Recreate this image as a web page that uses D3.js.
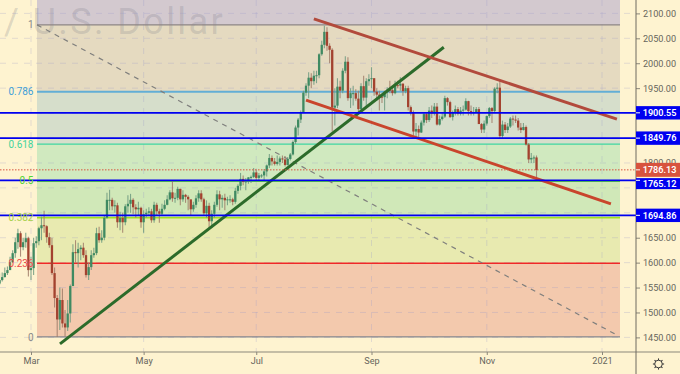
<!DOCTYPE html>
<html><head><meta charset="utf-8">
<script src="https://cdn.jsdelivr.net/npm/d3@7/dist/d3.min.js"></script>
<style>html,body{margin:0;padding:0;background:#FEF3D0;overflow:hidden}svg{display:block}text{font-family:Roboto,sans-serif}</style>
</head><body><svg id="c" width="680" height="374"></svg>
<script>
const firstOpen = 1558;
const firstBar = -12;
const closes = [
1565,1571,1579,1585,1601,1619,1641,1659,1631,1641,1649,1585,
1589,1639,1643,1669,1675,1673,1651,1635,1579,1529,
1486,1525,1478,1470,1498,1553,1621,1619,1627,1630,
1615,1575,1591,1615,1619,1659,1645,1650,1690,1726,
1726,1713,1715,1681,1690,1681,1713,1718,1726,1711,
1707,1710,1681,1697,1700,1703,1685,1716,1703,1698,
1708,1716,1727,1741,1729,1730,1748,1727,1736,1732,
1727,1707,1716,1729,1739,1727,1699,1714,1683,1698,
1716,1737,1727,1730,1725,1727,1727,1722,1744,1754,
1768,1762,1763,1771,1772,1781,1770,1775,1775,1783,
1795,1810,1803,1798,1802,1809,1807,1796,1808,1817,
1842,1871,1887,1902,1941,1955,1971,1964,1975,1976,
2018,2037,2063,2035,2027,1911,1915,1953,1945,1985,
2003,1930,1940,1940,1929,1908,1954,1931,1964,1968,
1970,1943,1937,1933,1932,1943,1947,1946,1940,1956,
1955,1959,1944,1950,1912,1900,1863,1868,1861,1881,
1898,1886,1905,1899,1913,1877,1888,1893,1930,1922,
1892,1902,1908,1899,1905,1907,1924,1904,1902,1902,
1908,1878,1867,1879,1894,1910,1904,1949,1951,1854,
1877,1866,1873,1889,1887,1885,1871,1866,1872,1837,
1807,1810,1811,1786];
const highs = [
1578,1580,1590,1592,1612,1625,1650,1668,1663,1650,1660,1652,
1612,1650,1653,1672,1692,1704,1675,1660,1650,1590,
1535,1550,1548,1505,1525,1556,1637,1645,1640,1635,
1640,1625,1600,1625,1630,1670,1672,1665,1695,1740,
1746,1730,1725,1720,1702,1700,1717,1735,1738,1729,
1717,1722,1712,1705,1708,1711,1708,1722,1720,1708,
1718,1725,1735,1745,1765,1740,1752,1748,1745,1738,
1735,1725,1722,1735,1745,1745,1730,1725,1720,1705,
1722,1745,1744,1735,1738,1732,1735,1730,1750,1757,
1780,1775,1770,1772,1775,1790,1787,1780,1778,1788,
1797,1818,1815,1810,1815,1813,1815,1814,1812,1820,
1845,1875,1890,1905,1945,1960,1982,1980,1985,1985,
2020,2045,2075,2072,2040,2030,1950,1970,1965,1990,
2014,2012,1950,1955,1948,1945,1960,1975,1970,1978,
1992,1970,1950,1945,1935,1945,1952,1965,1950,1965,
1965,1972,1960,1955,1955,1915,1905,1880,1875,1885,
1902,1900,1912,1915,1920,1920,1895,1900,1935,1932,
1925,1905,1915,1912,1912,1915,1930,1925,1915,1912,
1912,1912,1880,1885,1895,1912,1912,1952,1960,1965,
1885,1882,1880,1892,1895,1895,1890,1880,1880,1875,
1840,1820,1815,1815];
const lows = [
1555,1562,1570,1575,1585,1600,1610,1628,1612,1625,1630,1572,
1565,1575,1630,1635,1645,1660,1640,1630,1575,1510,
1451,1465,1470,1452,1463,1480,1553,1600,1590,1605,
1610,1570,1565,1585,1610,1615,1640,1640,1645,1688,
1705,1705,1700,1670,1665,1660,1675,1700,1700,1697,
1690,1695,1670,1660,1690,1695,1680,1680,1695,1680,
1695,1705,1715,1725,1722,1720,1725,1715,1722,1720,
1705,1695,1702,1710,1722,1722,1695,1690,1670,1670,
1690,1712,1705,1710,1705,1715,1720,1715,1718,1738,
1745,1755,1745,1758,1760,1770,1765,1765,1770,1765,
1773,1790,1795,1795,1795,1795,1800,1793,1795,1805,
1815,1838,1855,1880,1900,1935,1930,1950,1957,1960,
1970,2015,2030,2025,2000,1863,1875,1910,1930,1940,
1980,1925,1910,1915,1925,1900,1905,1925,1910,1955,
1950,1935,1925,1905,1920,1905,1930,1940,1935,1938,
1950,1945,1935,1940,1905,1895,1855,1852,1848,1860,
1875,1880,1882,1890,1895,1875,1875,1885,1890,1915,
1890,1885,1895,1895,1895,1895,1905,1895,1895,1895,
1900,1878,1860,1860,1875,1890,1880,1900,1940,1850,
1850,1860,1860,1870,1875,1880,1865,1860,1865,1835,
1800,1800,1800,1765];

const priceTicks = [1450,1500,1550,1600,1650,1700,1750,1800,1850,1900,1950,2000,2050,2100];
const hiddenTicks = [1700,1750,1850,1900];
const timeTickBars = [0,43,86,130,174,218];
const timeTickLabels = ["Mar","May","Jul","Sep","Nov","2021"];
const fibLow = 1451, fibHigh = 2077;
const fibLevels = [0,0.236,0.382,0.5,0.618,0.786,1];
const fibLabels = ["0","0.236","0.382","0.5","0.618","0.786","1"];
const fibLineColors = ["#85868e","#f02828","#9fe020","#63e02c","#3fd6a0","#62aed6","#8d8585"];
const fibLineWidths = [1.4,1.4,1.6,2,1.2,2,1.2];
const fibTextColors = ["#8a8a8a","#ee4a4a","#a6cf4a","#52d436","#45d39c","#3f9fd8","#8a8a8a"];
const fibZones = ["#F3C9AD","#E8EAB0","#D0E8B8","#D0E9BF","#D6DECB","#E5DAC0","#D3C9CF"];
const markedPrices = [1900.55,1849.76,1765.12,1694.86];
const lastPrice = 1786.13;
const greenTrend = [[11.07,1437],[157.6,2032]];
const redUpper = [[108,2089],[223.7,1888]];
const redLower = [[105,1926],[221.4,1718]];
const fibDiagonal = [[2.3,2077],[222.9,1457]];

const W=680,H=374,axisX=636,axisY=352,zoneL=37,zoneR=620;
const x=d3.scaleLinear().domain([0,218]).range([31,602]);
const y=d3.scaleLinear().domain([1450,2100]).range([337.4,13.4]);
const fibPrice=l=>fibLow+(fibHigh-fibLow)*l;
const svg=d3.select("#c");
svg.append("rect").attr("width",W).attr("height",H).attr("fill","#FEF3D0");

// zones
const zoneTops=fibLevels.map((l,i)=>i<fibLevels.length-1?y(fibPrice(fibLevels[i+1])):0);
svg.append("g").selectAll("rect").data(fibZones).join("rect")
 .attr("x",zoneL).attr("width",zoneR-zoneL)
 .attr("y",(d,i)=>zoneTops[i])
 .attr("height",(d,i)=>(i<fibLevels.length-1?y(fibPrice(fibLevels[i])):y(fibPrice(1)))-zoneTops[i])
 .attr("fill",d=>d);

// watermark
svg.append("text").attr("x",4).attr("y",33.5).attr("font-size",36).attr("letter-spacing",2.4)
 .attr("fill","#787B86").attr("fill-opacity",0.24).text("/ U.S. Dollar");

// grid
const grid=svg.append("g").attr("stroke","#9a9ac8").attr("stroke-opacity",0.28).attr("stroke-dasharray","6 6");
grid.selectAll(".h").data(priceTicks).join("line").attr("x1",0).attr("x2",axisX).attr("y1",d=>y(d)).attr("y2",d=>y(d));
grid.selectAll(".v").data(timeTickBars).join("line").attr("x1",d=>x(d)).attr("x2",d=>x(d)).attr("y1",0).attr("y2",axisY);

// fib lines
svg.append("g").selectAll("line").data(fibLevels).join("line")
 .attr("x1",zoneL).attr("x2",zoneR).attr("y1",d=>y(fibPrice(d))).attr("y2",d=>y(fibPrice(d)))
 .attr("stroke",(d,i)=>fibLineColors[i]).attr("stroke-width",(d,i)=>fibLineWidths[i]);
const seg=d3.line().x(d=>x(d[0])).y(d=>y(d[1]));
svg.append("path").attr("d",seg(fibDiagonal)).attr("stroke","#7f7f7d").attr("stroke-width",1.2).attr("stroke-dasharray","5 5").attr("fill","none");

// candles
const bars=closes.map((c,k)=>{const o=k?closes[k-1]:firstOpen;return {i:k+firstBar,o,c,h:highs[k],l:lows[k]};});
const gc=svg.append("g");
gc.selectAll("line").data(bars).join("line")
 .attr("x1",d=>x(d.i)).attr("x2",d=>x(d.i)).attr("y1",d=>y(d.h)).attr("y2",d=>y(d.l))
 .attr("stroke",d=>d.c>=d.o?"#6f9a80":"#a07c6a").attr("stroke-width",1.1).attr("stroke-opacity",0.85);
gc.selectAll("rect").data(bars).join("rect")
 .attr("x",d=>x(d.i)-1.15).attr("width",2.3)
 .attr("y",d=>y(Math.max(d.o,d.c))).attr("height",d=>Math.max(1,Math.abs(y(d.o)-y(d.c))))
 .attr("fill",d=>d.c>=d.o?"#3f8a62":"#a3422f");

// trend lines
[[greenTrend,"#2c6b2a"],[redUpper,"#b24a3c"],[redLower,"#c9452c"]].forEach(([p,col])=>{
 svg.append("path").attr("d",seg(p)).attr("stroke",col).attr("stroke-width",3).attr("fill","none");
});

// marked lines
svg.append("g").selectAll("line").data(markedPrices).join("line")
 .attr("x1",0).attr("x2",axisX).attr("y1",d=>y(d)).attr("y2",d=>y(d))
 .attr("stroke","#0000f0").attr("stroke-width",1.8);
svg.append("line").attr("x1",0).attr("x2",axisX).attr("y1",y(lastPrice)).attr("y2",y(lastPrice))
 .attr("stroke","#d9533f").attr("stroke-width",1).attr("stroke-dasharray","1.5 1.5");

// fib labels
svg.append("g").selectAll("text").data(fibLevels).join("text")
 .attr("x",33.5).attr("y",d=>y(fibPrice(d))+3.6).attr("text-anchor","end").attr("font-size",10)
 .attr("fill",(d,i)=>fibTextColors[i]).text((d,i)=>fibLabels[i]);

// axes
const ay=svg.append("g").attr("transform",`translate(${axisX},0)`)
 .call(d3.axisRight(y).tickValues(priceTicks).tickSize(4).tickPadding(3).tickFormat(d=>hiddenTicks.includes(d)?"":d.toFixed(2)));
ay.select(".domain").remove();
ay.selectAll("text").attr("font-size",9.1).attr("fill","#66655c").style("font-family","Roboto,sans-serif");
ay.selectAll("line").attr("stroke","#8b877a");
const ax=svg.append("g").attr("transform",`translate(0,${axisY})`)
 .call(d3.axisBottom(x).tickValues(timeTickBars).tickSize(3).tickPadding(3).tickFormat((d,i)=>timeTickLabels[i]));
ax.select(".domain").remove();
ax.selectAll("text").attr("font-size",9.1).attr("fill","#66655c").style("font-family","Roboto,sans-serif");
ax.selectAll("line").attr("stroke","#8b877a");
svg.append("line").attr("x1",0).attr("x2",W).attr("y1",axisY).attr("y2",axisY).attr("stroke","#8b877a").attr("stroke-width",1);
svg.append("line").attr("x1",axisX).attr("x2",axisX).attr("y1",0).attr("y2",H).attr("stroke","#6e6b60").attr("stroke-width",1);

// price tags
function tag(v,col,h,dy){
 const cy=y(v)+dy;
 svg.append("rect").attr("x",axisX).attr("y",cy-h/2).attr("width",W-axisX).attr("height",h).attr("fill",col);
 svg.append("line").attr("x1",axisX).attr("x2",axisX+4).attr("y1",y(v)).attr("y2",y(v)).attr("stroke","#fff");
 svg.append("text").attr("x",642.7).attr("y",cy+3.3).attr("font-size",9.1).attr("font-weight",600).attr("fill","#fff").text(v.toFixed(2));
}
tag(lastPrice,"#d8533e",14,0);
markedPrices.forEach(v=>tag(v,"#0000f0",v===1765.12?11:13.4,v===1765.12?3.3:0));

// gear
const gear=svg.append("g").attr("transform","translate(658.5,364)").attr("stroke","#3a3a3a").attr("fill","none");
gear.append("circle").attr("r",3.8).attr("stroke-width",1);
d3.range(8).forEach(k=>{const a=k*Math.PI/4;
 gear.append("line").attr("x1",3.8*Math.cos(a)).attr("y1",3.8*Math.sin(a)).attr("x2",5.6*Math.cos(a)).attr("y2",5.6*Math.sin(a)).attr("stroke-width",1.1);});
</script></body></html>
